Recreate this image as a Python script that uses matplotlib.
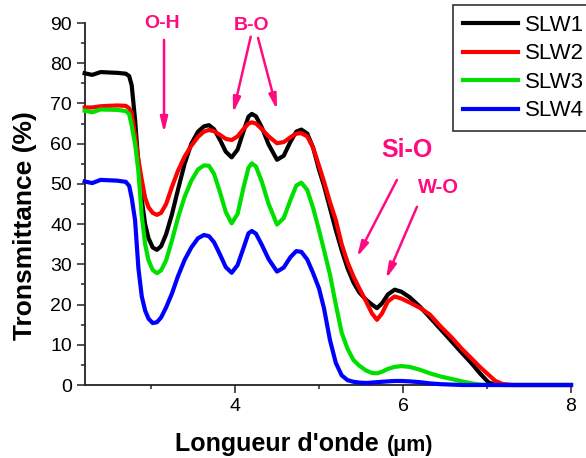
import numpy as np
import matplotlib
matplotlib.use('Agg')
import matplotlib.pyplot as plt
from matplotlib.ticker import MultipleLocator

plt.rcParams['font.family'] = ['Liberation Sans', 'DejaVu Sans']

# wavelength (um) and transmittance (%)
wavelength = [2.21, 2.3, 2.4, 2.6, 2.70, 2.74, 2.77, 2.81, 2.85, 2.89, 2.93, 2.97, 3.02, 3.07,
              3.12, 3.18, 3.25, 3.32, 3.40, 3.48, 3.56, 3.63, 3.69, 3.75, 3.82, 3.89,
              3.96, 4.03, 4.10, 4.16, 4.20, 4.25, 4.32, 4.40, 4.50, 4.58, 4.66, 4.73,
              4.79, 4.86, 4.93, 5.00, 5.06, 5.13, 5.20, 5.27, 5.34, 5.41, 5.48, 5.56,
              5.63, 5.69, 5.75, 5.82, 5.90, 5.98, 6.08, 6.20, 6.32, 6.45, 6.58, 6.70,
              6.82, 6.92, 7.02, 7.10, 7.18, 7.30, 7.50, 8.0]

slw1 = [77.5, 77.1, 77.8, 77.6, 77.4, 76.8, 74.5, 66.0, 55.0, 46.0, 40.0, 36.5, 34.2, 33.6,
        34.5, 37.5, 42.5, 48.5, 55.0, 60.0, 63.0, 64.3, 64.6, 63.6, 61.0, 58.0,
        56.6, 58.5, 63.0, 66.7, 67.4, 66.8, 64.0, 59.8, 56.0, 57.0, 60.5, 63.0,
        63.5, 62.5, 59.0, 53.5, 49.5, 44.0, 38.5, 33.5, 29.0, 25.5, 23.0, 21.2,
        20.0, 19.1, 20.3, 22.5, 23.7, 23.2, 21.8, 19.5, 16.8, 13.8, 10.8, 8.0,
        5.3, 2.8, 0.6, 0.1, 0.0, 0.0, 0.0, 0.0]

slw2 = [69.0, 69.0, 69.3, 69.5, 69.4, 68.8, 67.5, 62.0, 56.0, 51.0, 46.5, 44.2, 42.8, 42.3,
        42.8, 45.0, 49.3, 53.2, 56.8, 59.5, 61.7, 63.0, 63.4, 63.1, 62.2, 61.2,
        60.9, 61.8, 63.6, 65.0, 65.3, 65.0, 63.6, 61.8, 60.1, 60.4, 61.6, 62.5,
        62.6, 61.8, 59.0, 54.5, 50.5, 45.5, 41.0, 35.0, 30.5, 27.0, 24.0, 20.8,
        17.8, 16.2, 17.8, 20.8, 22.0, 21.5, 20.5, 19.2, 17.5, 14.5, 11.8, 9.0,
        6.5, 4.4, 2.5, 1.0, 0.3, 0.0, 0.0, 0.0]

slw3 = [68.2, 67.8, 68.5, 68.4, 68.1, 67.3, 64.5, 60.0, 53.0, 42.0, 35.0, 31.0, 28.6, 27.8,
        28.5, 31.0, 36.0, 41.5, 46.8, 50.8, 53.6, 54.6, 54.5, 52.5, 48.0, 43.0,
        40.2, 42.5, 49.0, 54.0, 55.1, 54.3, 50.5, 45.0, 39.9, 41.5, 46.0, 49.6,
        50.3, 48.5, 44.0, 38.5, 33.5, 27.5, 20.0, 13.0, 9.0, 6.2, 4.8, 3.6,
        3.0, 2.9, 3.3, 4.0, 4.5, 4.7, 4.5, 3.8, 2.9, 2.1, 1.5, 0.9,
        0.4, 0.1, 0.0, 0.0, 0.0, 0.0, 0.0, 0.0]

slw4 = [50.6, 50.2, 51.0, 50.8, 50.5, 49.5, 46.5, 41.0, 29.0, 22.0, 18.5, 16.5, 15.4, 15.6,
        16.8, 19.3, 22.8, 27.0, 31.1, 34.2, 36.5, 37.3, 37.0, 35.5, 32.5, 29.3,
        27.9, 29.8, 34.0, 37.7, 38.3, 37.6, 34.8, 31.3, 28.2, 29.2, 31.8, 33.3,
        33.1, 31.2, 27.8, 24.0, 19.0, 11.2, 5.5, 2.4, 1.2, 0.8, 0.6, 0.5,
        0.6, 0.7, 0.8, 0.9, 1.0, 1.0, 0.9, 0.7, 0.4, 0.2, 0.1, 0.0,
        0.0, 0.0, 0.0, 0.0, 0.0, 0.0, 0.0, 0.0]

labels = ['SLW1', 'SLW2', 'SLW3', 'SLW4']
colors = ['#000000', '#ff0000', '#00e000', '#0000ff']
pink = '#ff0a80'

fig = plt.figure(figsize=(5.86, 4.58), dpi=100)
ax = fig.add_axes([85/586, 1 - 385/458, (571 - 85)/586, (385 - 23)/458])

for ys, lab, c in zip([slw1, slw2, slw3, slw4], labels, colors):
    ax.plot(wavelength, ys, color=c, lw=3, label=lab, clip_on=False,
            solid_joinstyle='round', zorder=3)

ax.set_xlim(2.214, 8)
ax.set_ylim(0, 90)
ax.xaxis.set_major_locator(MultipleLocator(2))
ax.xaxis.set_minor_locator(MultipleLocator(1))
ax.yaxis.set_major_locator(MultipleLocator(10))
ax.yaxis.set_minor_locator(MultipleLocator(5))
ax.spines['top'].set_visible(False)
ax.spines['right'].set_visible(False)
for s in ['left', 'bottom']:
    ax.spines[s].set_color('#222222')
    ax.spines[s].set_linewidth(1.3)
ax.tick_params(which='major', direction='out', length=5.8, width=1.1,
               labelsize=14, color='#222222', pad=3.5)
ax.tick_params(which='minor', direction='out', length=3, width=1.1, color='#222222')

fig.text(25/586, 1 - 226/458, 'Tronsmittance (%)', rotation=90, fontsize=19,
         fontweight='bold', ha='center', va='center')
fig.text(175/586, 7/458, "Longueur d'onde", fontsize=18, fontweight='bold',
         ha='left', va='baseline')
fig.text(387/586, 7/458, '(\u03bcm)', fontsize=15.5, fontweight='bold',
         ha='left', va='baseline')

arrow = dict(arrowstyle='-|>,head_length=0.9,head_width=0.22', color=pink, lw=1.8,
             shrinkA=0, shrinkB=0)
ax.text(3.131, 90.0, 'O-H', color=pink, fontsize=14, fontweight='bold',
        ha='center', va='center')
ax.annotate('', xy=(3.155, 62.7), xytext=(3.155, 85.8), arrowprops=arrow)
ax.text(4.202, 89.5, 'B-O', color=pink, fontsize=14, fontweight='bold',
        ha='center', va='center')
ax.annotate('', xy=(3.976, 67.6), xytext=(4.187, 86.6), arrowprops=arrow)
ax.annotate('', xy=(4.50, 68.4), xytext=(4.274, 86.3), arrowprops=arrow)
ax.text(6.047, 58.4, 'Si-O', color=pink, fontsize=18, fontweight='bold',
        ha='center', va='center')
ax.annotate('', xy=(5.452, 31.8), xytext=(5.928, 51.0), arrowprops=arrow)
ax.text(6.428, 49.0, 'W-O', color=pink, fontsize=14.5, fontweight='bold',
        ha='center', va='center')
ax.annotate('', xy=(5.797, 26.4), xytext=(6.166, 44.3), arrowprops=arrow)

leg = ax.legend(loc='upper left', bbox_to_anchor=(453/586, 1 - 5/458),
                bbox_transform=fig.transFigure, fontsize=16, frameon=True,
                fancybox=False, edgecolor='black', handlelength=2.5,
                handletextpad=0.3, labelspacing=0.34, borderpad=0.44,
                borderaxespad=0)
leg.get_frame().set_linewidth(1.2)
for h in leg.get_lines():
    h.set_linewidth(3)

fig.savefig('out.png', dpi=100)
